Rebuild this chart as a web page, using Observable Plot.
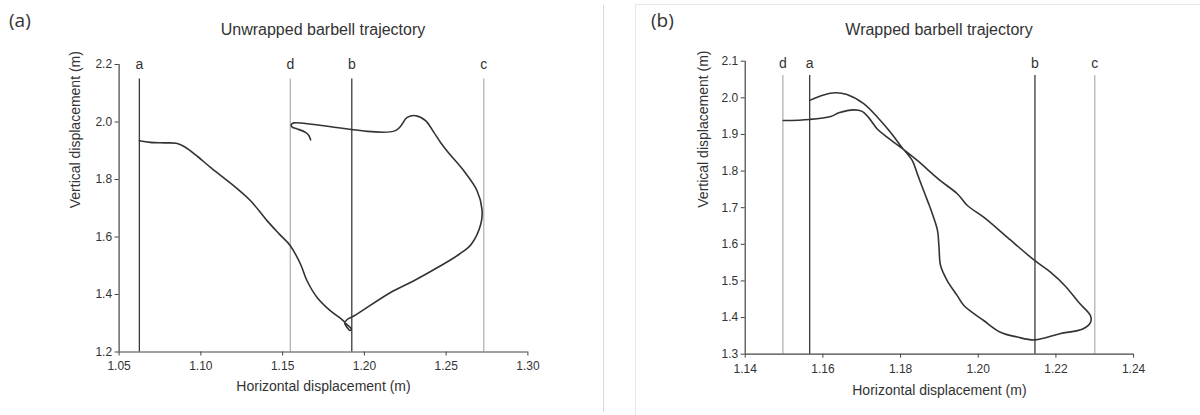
<!DOCTYPE html>
<html>
<head>
<meta charset="utf-8">
<script src="https://cdn.jsdelivr.net/npm/d3@7"></script>
<script src="https://cdn.jsdelivr.net/npm/@observablehq/plot@0.6"></script>
<style>
  html, body { margin: 0; padding: 0; background: #fff; }
  #page { position: relative; width: 1200px; height: 415px; overflow: hidden; background: #fff;
          font-family: "Liberation Sans", Arial, sans-serif; color: #333; }
  .panel { position: absolute; top: 0; width: 600px; height: 415px; }
  .tag { position: absolute; font-family: "Open Sans", sans-serif; font-size: 19px; color: #333; }
  .title { position: absolute; font-size: 16px; color: #333; transform: translateX(-50%); white-space: nowrap; }
  #sep { position: absolute; left: 603px; top: 5px; width: 1px; height: 407px; background: #d9d9d9; }
  #frameB { position: absolute; left: 635px; top: 4px; width: 600px; height: 440px; border: 1px solid #e8e8e8; }
</style>
</head>
<body>
<div id="page">
  <div id="sep"></div>
  <div id="frameB"></div>
  <div class="tag" style="left:9px; top:7px;">(a)</div>
  <div class="title" style="left:323px; top:21px;">Unwrapped barbell trajectory</div>
  <div class="tag" style="left:651px; top:7px;">(b)</div>
  <div class="title" style="left:939px; top:21px;">Wrapped barbell trajectory</div>
  <div class="panel" id="panelA" style="left:0px;"></div>
  <div class="panel" id="panelB" style="left:600px;"></div>
</div>
<script>
// ---- Unwrapped lift: barbell path (horizontal m, vertical m) ----
const unwrappedX = [
  1.0624, 1.0690, 1.0780, 1.0850, 1.0900, 1.0980, 1.1059, 1.1202, 1.1304, 1.1406,
  1.1480, 1.1548, 1.1609, 1.1650, 1.1712, 1.1793, 1.1865, 1.1895, 1.1920, 1.1912,
  1.1895, 1.1880, 1.1895, 1.1935, 1.2160, 1.2300, 1.2466, 1.2580, 1.2654, 1.2712,
  1.2719, 1.2689, 1.2607, 1.2513, 1.2466, 1.2425, 1.2374, 1.2313, 1.2262, 1.2190,
  1.1568, 1.1553, 1.1559, 1.1589, 1.1640, 1.1660, 1.1671
];
const unwrappedY = [
  1.935, 1.929, 1.9275, 1.926, 1.914, 1.880, 1.842, 1.778, 1.726, 1.656,
  1.610, 1.569, 1.506, 1.447, 1.389, 1.343, 1.312, 1.295, 1.280, 1.275,
  1.285, 1.300, 1.313, 1.325, 1.407, 1.447, 1.500, 1.540, 1.575, 1.645,
  1.697, 1.761, 1.831, 1.894, 1.929, 1.964, 2.005, 2.022, 2.016, 1.970,
  1.997, 1.991, 1.982, 1.976, 1.964, 1.953, 1.938
];
// Reference positions marked on the unwrapped trajectory
const unwrappedMarkLabels = ["a", "d", "b", "c"];
const unwrappedMarkX = [1.0624, 1.1547, 1.1923, 1.2730];
const unwrappedXTicks = [1.05, 1.10, 1.15, 1.20, 1.25, 1.30];
const unwrappedYTicks = [1.2, 1.4, 1.6, 1.8, 2.0, 2.2];

// ---- Wrapped lift: barbell path ----
const wrappedX = [
  1.1498, 1.1566, 1.1620, 1.1641, 1.1680, 1.1701, 1.1718, 1.1740, 1.1766, 1.1804,
  1.1843, 1.1900, 1.1946, 1.1972, 1.2014, 1.2075, 1.2145, 1.2186, 1.2225, 1.2259,
  1.2289, 1.2289, 1.2269, 1.2210, 1.2146, 1.2100, 1.2057, 1.2014, 1.1963, 1.1946,
  1.1920, 1.1903, 1.1899, 1.1895, 1.1882, 1.1869, 1.1856, 1.1843, 1.1830, 1.1804,
  1.1774, 1.1744, 1.1705, 1.1662, 1.1632, 1.1602, 1.1566
];
const wrappedY = [
  1.938, 1.941, 1.949, 1.959, 1.967, 1.963, 1.946, 1.915, 1.892, 1.862,
  1.829, 1.776, 1.738, 1.706, 1.674, 1.619, 1.556, 1.524, 1.485, 1.441,
  1.405, 1.387, 1.369, 1.356, 1.339, 1.347, 1.360, 1.392, 1.433, 1.460,
  1.501, 1.542, 1.592, 1.638, 1.683, 1.720, 1.756, 1.793, 1.829, 1.864,
  1.906, 1.943, 1.984, 2.009, 2.014, 2.008, 1.993
];
const wrappedMarkLabels = ["d", "a", "b", "c"];
const wrappedMarkX = [1.1497, 1.1566, 1.2146, 1.2300];
const wrappedXTicks = [1.14, 1.16, 1.18, 1.20, 1.22, 1.24];
const wrappedYTicks = [1.3, 1.4, 1.5, 1.6, 1.7, 1.8, 1.9, 2.0, 2.1];

const zip = (xs, ys) => xs.map((x, i) => ({x, y: ys[i]}));
const marks = (labels, xs) => labels.map((label, i) => ({label, x: xs[i]}));
// positions a and b are drawn dark, c and d light
const markStroke = m => (m.label === "a" || m.label === "b") ? "#3a3a3a" : "#b4b4b4";

function trajectoryChart({path, markers, xDomain, yDomain, xTicks, yTicks, xFmt, yFmt,
                          markTop, labelY, margins, xLabelDy, yLabelDx, xTickPad}) {
  return Plot.plot({
    width: 600,
    height: 415,
    ...margins,
    style: {fontFamily: "'Liberation Sans', Arial, sans-serif", fontSize: "12px", color: "#333",
            background: "transparent", overflow: "visible"},
    x: {domain: xDomain},
    y: {domain: yDomain},
    marks: [
      Plot.ruleX(markers, {x: "x", y1: yDomain[0], y2: markTop, stroke: markStroke, strokeWidth: 1.3}),
      Plot.text(markers, {x: "x", y: labelY, text: "label", fontSize: 14}),
      Plot.axisX({ticks: xTicks, tickFormat: d3.format(xFmt), tickSize: 4, tickPadding: xTickPad,
                  label: null, fontSize: 12, stroke: "#444"}),
      Plot.axisY({ticks: yTicks, tickFormat: d3.format(yFmt), tickSize: 4, tickPadding: 3,
                  label: null, fontSize: 12, stroke: "#444"}),
      Plot.ruleX([xDomain[0]], {stroke: "#444", strokeWidth: 1.2}),
      Plot.ruleY([yDomain[0]], {stroke: "#444", strokeWidth: 1.2}),
      Plot.line(path, {x: "x", y: "y", curve: "catmull-rom", stroke: "#333", strokeWidth: 1.6}),
      Plot.text(["Horizontal displacement (m)"], {frameAnchor: "bottom", dy: xLabelDy, fontSize: 14}),
      Plot.text(["Vertical displacement (m)"], {frameAnchor: "left", dx: yLabelDx, rotate: -90, fontSize: 14})
    ]
  });
}

document.getElementById("panelA").append(trajectoryChart({
  path: zip(unwrappedX, unwrappedY),
  markers: marks(unwrappedMarkLabels, unwrappedMarkX),
  xDomain: [1.05, 1.30], yDomain: [1.2, 2.2],
  xTicks: unwrappedXTicks, yTicks: unwrappedYTicks, xFmt: ".2f", yFmt: ".1f",
  markTop: 2.15, labelY: 2.2,
  margins: {marginLeft: 118.6, marginRight: 72.6, marginTop: 64, marginBottom: 63.5},
  xLabelDy: 38.5, yLabelDx: -44, xTickPad: 5
}));

document.getElementById("panelB").append(trajectoryChart({
  path: zip(wrappedX, wrappedY),
  markers: marks(wrappedMarkLabels, wrappedMarkX),
  xDomain: [1.14, 1.24], yDomain: [1.3, 2.1],
  xTicks: wrappedXTicks, yTicks: wrappedYTicks, xFmt: ".2f", yFmt: ".1f",
  markTop: 2.061, labelY: 2.093,
  margins: {marginLeft: 144.7, marginRight: 66.9, marginTop: 60.7, marginBottom: 61.3},
  xLabelDy: 41, yLabelDx: -42, xTickPad: 6
}));
</script>
</body>
</html>
